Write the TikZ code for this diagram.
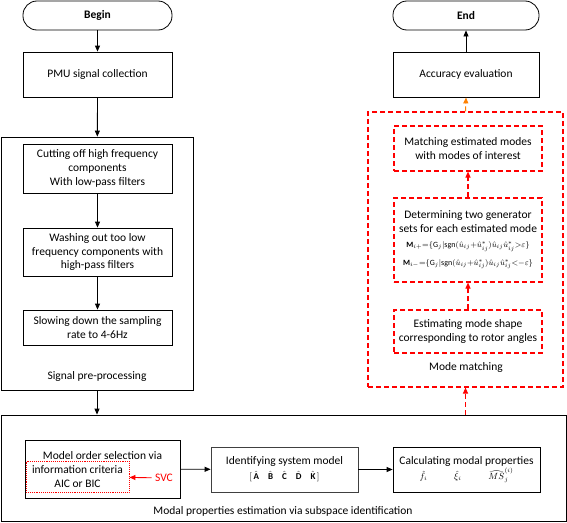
\documentclass[tikz,border=0pt]{standalone}
\usepackage{amsmath, amssymb}
\usepackage{fontspec}
\setmainfont{Carlito}
\usepackage{tikz}
\usetikzlibrary{calc, arrows.meta, positioning}

\begin{document}
\begin{tikzpicture}[x=1pt, y=-1pt,
    >={Triangle[length=6pt, width=5pt]},
    txt/.style={font=\fontsize{11.5}{13.8}\selectfont, align=center},
    box/.style={txt, draw, line width=0.8pt, inner sep=1pt},
    term/.style={box, rounded corners=14pt},
    rbox/.style={txt, draw=red, dashed, line width=1.1pt, dash pattern=on 5pt off 3pt, inner sep=1pt},
    rline/.style={red, line width=1.1pt, dash pattern=on 5pt off 3pt}]

    % =================================================================
    % 1. FRAME
    % =================================================================
    \useasboundingbox (0,0) rectangle (567,522);

    % =================================================================
    % 2. LEFT COLUMN: BEGIN AND SIGNAL PRE-PROCESSING
    % =================================================================
    \node[term, minimum width=149pt, minimum height=29pt] (begin) at (97.5,15.5) {\textbf{Begin}};
    \node[box, minimum width=149pt, minimum height=45pt] (pmu) at (97.5,74.5) {PMU signal collection};

    \node[box, minimum width=192pt, minimum height=253pt] (pre) at (97,263.5) {};
    \node[box, minimum width=149pt, minimum height=49pt] (cut) at (97.5,168.5)
        {Cutting off high frequency\\components\\With low-pass filters};
    \node[box, minimum width=149pt, minimum height=48pt] (wash) at (97.5,252)
        {Washing out too low\\frequency components with\\high-pass filters};
    \node[box, minimum width=149pt, minimum height=35pt] (slow) at (97.5,327.5)
        {Slowing down the sampling\\rate to 4-6Hz};
    \node[txt] (prelabel) at (97,376) {Signal pre-processing};

    % =================================================================
    % 3. BOTTOM: MODAL PROPERTIES ESTIMATION
    % =================================================================
    \node[box, minimum width=565pt, minimum height=106pt] (modal) at (283.5,468) {};
    \node[box, minimum width=155pt, minimum height=58pt] (order) at (102.5,469) {};
    \node[txt] (ordertext) at (102.5,455.5) {Model order selection via};
    \node[txt, draw=red, densely dotted, line width=0.9pt, minimum width=103pt, minimum height=31pt, inner sep=1pt]
        (aic) at (77.5,476.5) {information criteria\\AIC or BIC};
    \node[txt, text=red] (svc) at (164,478) {SVC};
    \node[box, draw=black!75, minimum width=147pt, minimum height=45pt] (ident) at (284.5,469.5)
        {Identifying system model\\[1pt]
         {\small$[\,\hat{\mathbf{A}}\quad\hat{\mathbf{B}}\quad\hat{\mathbf{C}}\quad\hat{\mathbf{D}}\quad\hat{\mathbf{K}}\,]$}};
    \node[box, minimum width=147pt, minimum height=45pt] (calc) at (466.5,469.5)
        {Calculating modal properties\\[1pt]
         {\small$\hat{f}_i\qquad\quad\hat{\xi}_i\qquad\quad\widehat{MS}_j^{(i)}$}};
    \node[txt] (modallabel) at (283,511) {Modal properties estimation via subspace identification};

    % =================================================================
    % 4. RIGHT COLUMN: MODE MATCHING AND END
    % =================================================================
    \node[term, minimum width=146pt, minimum height=29pt] (end) at (466,15.5) {\textbf{End}};
    \node[box, minimum width=146pt, minimum height=45pt] (acc) at (466,74.5) {Accuracy evaluation};

    \node[rbox, minimum width=195pt, minimum height=275pt] (mm) at (465.5,249.5) {};
    \node[rbox, minimum width=148pt, minimum height=45pt] (match) at (468,148.5)
        {Matching estimated modes\\with modes of interest};
    \node[rbox, minimum width=148pt, minimum height=84pt] (det) at (468,240)
        {Determining two generator\\sets for each estimated mode\\[1pt]
         {\footnotesize$\mathbf{M}_{i+}{=}\{\mathrm{G}_j|\mathrm{sgn}(\hat{u}_{ij}{+}\hat{u}^{*}_{ij})\hat{u}_{ij}\hat{u}^{*}_{ij}{>}\varepsilon\}$}\\[4pt]
         {\footnotesize$\mathbf{M}_{i-}{=}\{\mathrm{G}_j|\mathrm{sgn}(\hat{u}_{ij}{+}\hat{u}^{*}_{ij})\hat{u}_{ij}\hat{u}^{*}_{ij}{<}{-}\varepsilon\}$}};
    \node[rbox, minimum width=148pt, minimum height=43pt] (est) at (468,331.5)
        {Estimating mode shape\\corresponding to rotor angles};
    \node[txt] (mmlabel) at (466,367) {Mode matching};

    % =================================================================
    % 5. CONNECTORS
    % =================================================================
    \draw[->, line width=1pt] (begin) -- (pmu);
    \draw[->, line width=0.8pt] (pmu) -- (pre);
    \draw[->, line width=0.8pt] (cut) -- (wash);
    \draw[->, line width=0.8pt] (wash) -- (slow);
    \draw[->, line width=0.8pt] (pre.south) -- (pre.south |- modal.north);
    \draw[->, line width=0.8pt] (order) -- (ident);
    \draw[->, line width=0.8pt] (ident) -- (calc);
    \draw[->, red, line width=0.9pt] (svc) -- (aic);

    \draw[->, rline] (mm.south |- modal.north) -- (mm.south);
    \draw[->, rline] (est) -- (det);
    \draw[->, rline] (det) -- (match);
    \draw[->, orange, line width=1.1pt, dash pattern=on 5pt off 3pt] (mm.north) -- (acc.south);
    \draw[->, line width=0.8pt] (acc) -- (end);

\end{tikzpicture}
\end{document}
